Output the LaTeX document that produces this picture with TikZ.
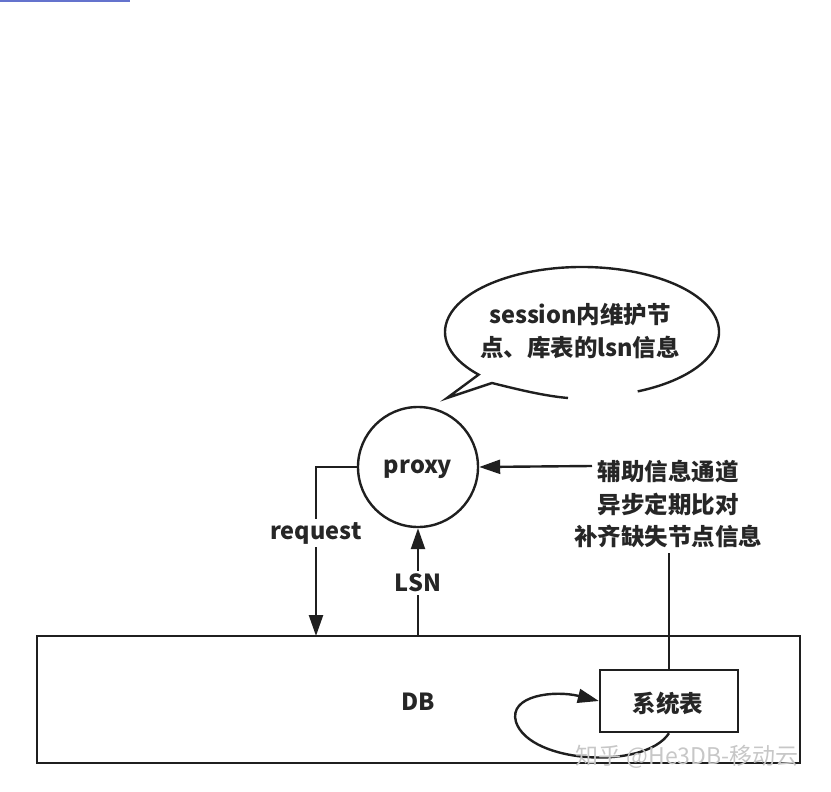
\documentclass[tikz,border=0pt]{standalone}
\usepackage{fontspec}
\setmainfont{Noto Sans CJK SC}
\usetikzlibrary{arrows.meta}
\tikzset{
  lbl/.style={font=\fontsize{23.5}{32.5}\selectfont\bfseries, text=black!85, inner sep=1pt, align=center},
  lblw/.style={lbl, fill=white, inner sep=3pt},
  ln/.style={line width=2.4pt, draw=black!88},
  arr/.style={ln, -{Triangle[length=21pt,width=14pt]}},
}
\begin{document}
\begin{tikzpicture}[x=1pt,y=-1pt]
\useasboundingbox (0,0) rectangle (831,792);
% top blue underline artifact
\draw[line width=1.5pt, draw={rgb,255:red,100;green,115;blue,205}] (0,0.8) -- (130,0.8);

% speech bubble
\draw[ln] (582,332) ++(-66:137 and -65) arc[start angle=-66, end angle=221, x radius=137, y radius=-65]
  -- (447,398) -- (492,383) .. controls (520,390) and (545,396) .. (568,398);
\node[lbl] (bubble) at (580,331) {session内维护节\\点、库表的lsn信息};

% nodes
\node[ln, circle, minimum size=120pt, inner sep=0pt] (proxy) at (418,467) {};
\node[lbl] at (418,469) {proxy};
\node[ln, rectangle, minimum width=763pt, minimum height=127pt, inner sep=0pt] (DB) at (418.5,699.5) {};
\node[lbl] (dbl) at (418,702) {DB};
\node[ln, rectangle, minimum width=138pt, minimum height=62pt, inner sep=0pt, fill=white] (sys) at (669,701) {};
\node[lbl] at (668,704) {系统表};
\node[lbl] (aux) at (668,504) {辅助信息通道\\异步定期比对\\补齐缺失节点信息};

% connector endpoints
\coordinate (req) at (316,636);
\coordinate (lsn) at (418,636);
\coordinate (auxa) at (592,466);
\coordinate (auxb) at (669,553);

% connectors
\draw[arr] (proxy.west) -| (req);
\node[lblw] at (316,533) {request};
\draw[arr] (lsn) -- (proxy.south);
\node[lblw] at (418,583) {LSN};
\draw[arr] (auxa) -- (proxy.east);
\draw[ln] (auxb) -- (sys.north);
\draw[arr] (sys.south) .. controls (645,770) and (530,764) .. (516,722)
  .. controls (508,695) and (555,690) .. (sys.west);

% watermark
\node[font=\fontsize{23}{26}\selectfont, text=black!22] (wm) at (687,757) {知乎 @He3DB-移动云};
\end{tikzpicture}
\end{document}
